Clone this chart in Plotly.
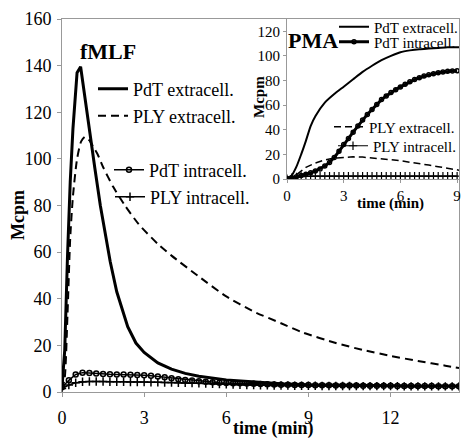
import plotly.graph_objects as go

# ---------------- main panel (fMLF) ----------------
t_pdt_ext = [0, 0.1, 0.2, 0.3, 0.4, 0.5, 0.55, 0.68, 0.8, 0.9, 1.0, 1.05, 1.2, 1.4, 1.5, 1.6, 1.76,
             2.0, 2.2, 2.4, 2.7, 3.0, 3.5, 4.0, 4.5, 5, 6, 7, 8, 9, 10, 11, 12, 13, 14, 14.5]
v_pdt_ext = [2, 18, 58, 90, 113, 131, 137, 139.5, 129, 120, 112, 108, 96, 80, 73, 66, 56,
             43, 35, 28, 21, 17, 12.5, 9.8, 8.0, 6.8, 5.2, 4.2, 3.5, 3.1, 2.9, 2.8, 2.7, 2.6, 2.6, 2.6]

t_ply_ext = [0, 0.1, 0.2, 0.3, 0.4, 0.55, 0.7, 0.84, 1.0, 1.15, 1.3, 1.5, 1.87, 2.3, 2.8, 3.5, 4.0,
             5, 6, 7, 8, 8.8, 10, 11, 12, 13, 14, 14.5]
v_ply_ext = [1, 6, 33, 66, 84, 100, 107.5, 109.5, 108, 105, 102, 96.5, 88, 80, 72, 63.5, 58.5,
             49.5, 41, 34.5, 29.5, 25.5, 21, 18, 15.5, 13.3, 11.3, 10.3]

t_main_int = [0, 0.25, 0.5, 0.75, 1, 1.25, 1.5, 1.75, 2, 2.25, 2.5, 2.75, 3, 3.25, 3.5, 3.75,
              4, 4.25, 4.5, 4.75, 5, 5.25, 5.5, 5.75, 6, 6.25, 6.5, 6.75, 7, 7.25, 7.5, 7.75,
              8, 8.25, 8.5, 8.75, 9, 9.25, 9.5, 9.75, 10, 10.25, 10.5, 10.75, 11, 11.25, 11.5,
              11.75, 12, 12.25, 12.5, 12.75, 13, 13.25, 13.5, 13.75, 14, 14.25, 14.5]
v_pdt_int = [2.0, 5.0, 7.5, 8.3, 8.2, 7.9, 7.7, 7.6, 7.5, 7.5, 7.4, 7.3, 7.2, 7.0, 6.7, 6.3,
             5.9, 5.5, 5.2, 4.9, 4.6, 4.4, 4.2, 4.0, 3.9, 3.8, 3.7, 3.6, 3.5, 3.4, 3.3, 3.2,
             3.1, 3.1, 3.0, 3.0, 3.0, 2.9, 2.9, 2.9, 2.8, 2.8, 2.8, 2.8, 2.7, 2.7, 2.7,
             2.7, 2.7, 2.6, 2.6, 2.6, 2.6, 2.6, 2.6, 2.5, 2.5, 2.5, 2.5]
v_ply_int = [1.5, 3.0, 4.0, 4.4, 4.5, 4.5, 4.5, 4.4, 4.4, 4.4, 4.3, 4.3, 4.3, 4.2, 4.2, 4.1,
             4.1, 4.0, 3.9, 3.8, 3.7, 3.6, 3.5, 3.4, 3.3, 3.2, 3.1, 3.0, 3.0, 2.9, 2.9, 2.8,
             2.8, 2.8, 2.7, 2.7, 2.7, 2.7, 2.6, 2.6, 2.6, 2.6, 2.6, 2.5, 2.5, 2.5, 2.5,
             2.5, 2.5, 2.5, 2.4, 2.4, 2.4, 2.4, 2.4, 2.4, 2.4, 2.4, 2.4]

main_xticks = [0, 3, 6, 9, 12]
main_yticks = [0, 20, 40, 60, 80, 100, 120, 140, 160]

# ---------------- inset panel (PMA) ----------------
t_in_pdt_ext = [0, 0.25, 0.5, 0.75, 1, 1.25, 1.5, 2, 2.5, 3, 3.5, 4, 4.5, 5, 5.5, 6, 6.5, 7,
                7.5, 8, 8.5, 9, 9.1]
v_in_pdt_ext = [0.5, 3, 10, 20, 31, 43, 51, 62, 69, 75, 81, 87, 92, 96.5, 100, 103, 104.5,
                105.5, 106, 106.5, 107, 107, 107]

t_in_ply_ext = [0, 0.25, 0.5, 0.75, 1, 1.5, 2, 2.5, 3, 3.5, 4, 4.5, 5, 5.5, 6, 6.5, 7, 7.5,
                8, 8.5, 9, 9.1]
v_in_ply_ext = [0, 1.2, 3.5, 6.5, 9.5, 13, 15.5, 17, 17.8, 18, 17.8, 17.3, 16.6, 15.7, 14.8,
                13.8, 12.6, 11.3, 10.0, 8.7, 7.5, 7.2]

t_in_int = [0, 0.25, 0.5, 0.75, 1, 1.25, 1.5, 1.75, 2, 2.25, 2.5, 2.75, 3, 3.25, 3.5, 3.75,
            4, 4.25, 4.5, 4.75, 5, 5.25, 5.5, 5.75, 6, 6.25, 6.5, 6.75, 7, 7.25, 7.5, 7.75,
            8, 8.25, 8.5, 8.75, 9]
v_in_pdt_int = [0.5, 1.0, 1.8, 2.8, 3.8, 5.0, 6.5, 8.2, 10.5, 13.5, 17.5, 22.5, 28.0, 33.0,
                38.0, 43.0, 48.0, 52.5, 56.5, 60.5, 64.5, 67.5, 70.3, 72.6, 74.8, 77.0, 79.0,
                80.8, 82.3, 83.6, 84.7, 85.6, 86.4, 87.0, 87.5, 87.8, 88.0]
v_in_ply_int = [0.3, 1.0, 1.6, 2.0, 2.2, 2.3, 2.3, 2.3, 2.3, 2.3, 2.3, 2.3, 2.3, 2.3, 2.3, 2.3,
                2.3, 2.3, 2.3, 2.3, 2.3, 2.3, 2.3, 2.3, 2.3, 2.3, 2.3, 2.3, 2.3, 2.3, 2.3, 2.3,
                2.3, 2.3, 2.3, 2.3, 2.3]

inset_xticks = [0, 3, 6, 9]
inset_yticks = [0, 20, 40, 60, 80, 100, 120]

FONT = "Liberation Serif, Times New Roman, serif"
W, H = 462, 438
ML, MR, MT, MB = 62, 3, 19, 46
PW, PH = W - ML - MR, H - MT - MB


def px(x):
    return (x - ML) / PW


def py(y):
    return (H - MB - y) / PH


fig = go.Figure()

# main traces
fig.add_trace(go.Scatter(x=t_pdt_ext, y=v_pdt_ext, mode="lines", name="PdT extracell.",
                         line=dict(color="black", width=3), legend="legend"))
fig.add_trace(go.Scatter(x=t_ply_ext, y=v_ply_ext, mode="lines", name="PLY extracell.",
                         line=dict(color="black", width=2, dash="8px,5px", shape="spline",
                                   smoothing=0.6),
                         legend="legend2"))
fig.add_trace(go.Scatter(x=t_main_int, y=v_pdt_int, mode="lines+markers", name="PdT intracell.",
                         line=dict(color="black", width=1.5),
                         marker=dict(symbol="circle-open", size=5, color="black",
                                     line=dict(width=1.5, color="black")),
                         legend="legend3"))
fig.add_trace(go.Scatter(x=t_main_int, y=v_ply_int, mode="lines+markers", name="PLY intracell.",
                         line=dict(color="black", width=1.5),
                         marker=dict(symbol="cross-thin-open", size=6, color="black",
                                     line=dict(width=1.5, color="black")),
                         legend="legend4"))

# inset traces
fig.add_trace(go.Scatter(x=t_in_pdt_ext, y=v_in_pdt_ext, mode="lines", name="PdT extracell.",
                         line=dict(color="black", width=2, shape="spline", smoothing=0.6),
                         xaxis="x2", yaxis="y2", legend="legend5"))
fig.add_trace(go.Scatter(x=t_in_int, y=v_in_pdt_int, mode="lines+markers", name="PdT intracell.",
                         line=dict(color="black", width=3),
                         marker=dict(symbol="circle-open", size=4, color="black",
                                     line=dict(width=1.5, color="black")),
                         xaxis="x2", yaxis="y2", legend="legend6"))
fig.add_trace(go.Scatter(x=t_in_ply_ext, y=v_in_ply_ext, mode="lines", name="PLY extracell.",
                         line=dict(color="black", width=1.5, dash="7px,4px"),
                         xaxis="x2", yaxis="y2", legend="legend7"))
fig.add_trace(go.Scatter(x=t_in_int, y=v_in_ply_int, mode="lines+markers", name="PLY intracell.",
                         line=dict(color="black", width=1),
                         marker=dict(symbol="cross-thin-open", size=6, color="black",
                                     line=dict(width=1.2, color="black")),
                         xaxis="x2", yaxis="y2", legend="legend8"))

axis_common = dict(showline=True, linecolor="#999999", linewidth=1, ticks="outside",
                   tickcolor="#999999", ticklen=4, showgrid=False, zeroline=False,
                   tickfont=dict(family=FONT, size=18, color="black"))

fig.update_layout(
    width=W, height=H,
    margin=dict(l=ML, r=MR, t=MT, b=MB, autoexpand=False),
    paper_bgcolor="white", plot_bgcolor="white",
    font=dict(family=FONT, color="black"),
    xaxis=dict(range=[0, 14.5], tickvals=main_xticks, mirror=True, ticklabelstandoff=5,
               domain=[0, 1], **axis_common),
    yaxis=dict(range=[0, 160], tickvals=main_yticks, mirror=True, ticklabelstandoff=2,
               domain=[0, 1], **axis_common),
    xaxis2=dict(range=[0, 9.1], tickvals=inset_xticks, anchor="y2",
                domain=[px(287), 1.0],
                **{**axis_common, "tickfont": dict(family=FONT, size=15, color="black"),
                   "ticklen": 3}),
    yaxis2=dict(range=[0, 130], tickvals=inset_yticks, anchor="x2",
                domain=[py(179), 1.0],
                **{**axis_common, "tickfont": dict(family=FONT, size=15, color="black"),
                   "ticklen": 3}),
    showlegend=True,
)

leg_font_main = dict(family=FONT, size=18, color="black")
leg_font_in = dict(family=FONT, size=15, color="black")


def leg(x, y, font):
    return dict(x=px(x), y=py(y), xanchor="left", yanchor="middle", font=font,
                bgcolor="rgba(0,0,0,0)", borderwidth=0, itemwidth=30,
                tracegroupgap=0)


fig.update_layout(
    legend=leg(93, 89, leg_font_main),
    legend2=leg(93, 116, leg_font_main),
    legend3=leg(109, 170, leg_font_main),
    legend4=leg(110, 197, leg_font_main),
    legend5=leg(334, 27, leg_font_in),
    legend6=leg(334, 42, leg_font_in),
    legend7=leg(329, 127, leg_font_in),
    legend8=leg(333, 146, leg_font_in),
)

# titles / labels
ann = [
    dict(text="<b>fMLF</b>", x=px(108), y=py(52), font=dict(family=FONT, size=22)),
    dict(text="<b>time (min)</b>", x=px(273), y=py(428), font=dict(family=FONT, size=18)),
    dict(text="<b>Mcpm</b>", x=px(18), y=py(215), textangle=-90, font=dict(family=FONT, size=18)),
    dict(text="<b>PMA</b>", x=px(313), y=py(40), font=dict(family=FONT, size=22)),
    dict(text="<b>time (min)</b>", x=px(390), y=py(203), font=dict(family=FONT, size=15)),
    dict(text="<b>Mcpm</b>", x=px(259), y=py(97), textangle=-90, font=dict(family=FONT, size=15)),
]
for a in ann:
    fig.add_annotation(xref="paper", yref="paper", showarrow=False,
                       xanchor="center", yanchor="middle", **a)

fig.write_html("out.html")
